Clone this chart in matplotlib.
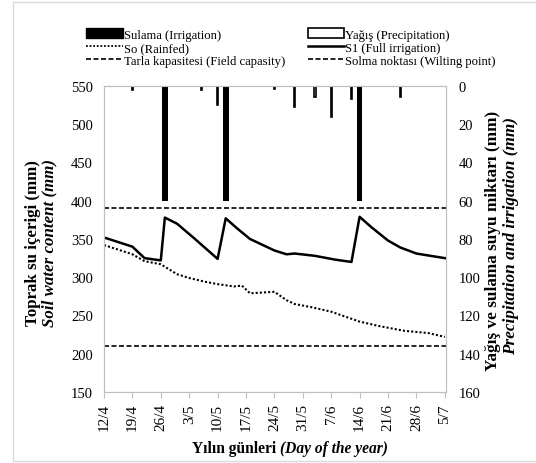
import matplotlib
matplotlib.use("Agg")
import matplotlib.pyplot as plt
from matplotlib.patches import Patch, Rectangle
from matplotlib.lines import Line2D

plt.rcParams['font.family'] = ['Liberation Serif', 'DejaVu Serif']

# days counted from 12/4
tick_days = [0, 7, 14, 21, 28, 35, 42, 49, 56, 63, 70, 77, 84]
tick_labels = ['12/4', '19/4', '26/4', '3/5', '10/5', '17/5', '24/5',
               '31/5', '7/6', '14/6', '21/6', '28/6', '5/7']

# S1 (full irrigation)
s1_days = [0, 7, 10, 14, 15, 18, 22, 25, 28, 30, 33, 36, 42, 45, 47, 52, 57, 61, 63, 66, 70, 73, 77, 84]
s1_vals = [352, 340, 325, 322, 378, 370, 352, 338, 324, 377, 363, 350, 335, 330, 331, 328, 323, 320, 379, 365, 348, 339, 331, 325]

# So (rainfed)
so_days = [0, 3, 7, 10, 14, 18, 21, 25, 28, 32, 34, 36, 42, 45, 47, 51, 56, 63, 68, 74, 80, 84]
so_vals = [342, 337, 330, 321, 317, 304, 299, 294, 291, 288, 289, 279, 281, 270, 265, 261, 255, 242, 236, 230, 227, 222]

field_capacity = 390
wilting_point = 210

# irrigation and precipitation (mm)
irr_days = [15, 30, 63]
irr_mm = [60, 60, 60]
rain_days = [7, 24, 28, 42, 47, 52, 56, 61, 73]
rain_mm = [2, 2, 10, 1.5, 11, 6, 16, 7, 6]

fig = plt.figure(figsize=(5.36, 4.64), dpi=100)
ax = fig.add_axes([104/536, 1-393/464, (446-104)/536, (393-87)/464])
ax2 = ax.twinx()

grey = '#bfbfbf'

ax.plot(s1_days, s1_vals, color='black', lw=1.8, zorder=3)
ax.plot(so_days, so_vals, color='black', lw=1.5, ls=(0, (1, 1)), zorder=3)
ax.axhline(field_capacity, color='black', lw=1.2, ls=(0, (3, 1.5)))
ax.axhline(wilting_point, color='black', lw=1.2, ls=(0, (3, 1.5)))

ax2.bar(irr_days, irr_mm, width=1.4, color='black', align='center')
ax2.bar(rain_days, rain_mm, width=0.3, facecolor='white', edgecolor='black', lw=1.2)

ax.set_xlim(0, 84.3)
ax.set_ylim(150, 550)
ax2.set_ylim(160, 0)
ax.set_xticks(tick_days)
ax.set_xticklabels(tick_labels, rotation=90, fontsize=11)
ax.set_yticks(range(150, 551, 50))
ax2.set_yticks(range(0, 161, 20))
ax.tick_params(axis='y', length=0, pad=8, labelsize=10.5)
ax2.tick_params(axis='y', length=0, pad=9, labelsize=10.5)
ax.tick_params(axis='x', length=4, color=grey, pad=4)
for a in (ax, ax2):
    for s in a.spines.values():
        s.set_color(grey)

# axis titles
fig.text(33/536, 1-243/464, 'Toprak su içerigi (mm)', rotation=90, ha='center', va='center',
         fontsize=12.2, fontweight='bold')
fig.text(49/536, 1-243/464, 'Soil water content (mm)', rotation=90, ha='center', va='center',
         fontsize=12.2, fontweight='bold', style='italic')
fig.text(493/536, 1-241/464, 'Yağış ve sulama suyu miktarı (mm)', rotation=90, ha='center', va='center',
         fontsize=12.4, fontweight='bold')
fig.text(511/536, 1-236/464, 'Precipitation and irrigation (mm)', rotation=90, ha='center', va='center',
         fontsize=12.4, fontweight='bold', style='italic')
t1 = fig.text(192/536, 1-449/464, 'Yılın günleri ', ha='left', va='center',
              fontsize=11.2, fontweight='bold')
ax.annotate('(Day of the year)', xy=(1, 0.5), xycoords=t1, ha='left', va='center',
            fontsize=11.2, fontweight='bold', style='italic', annotation_clip=False)

handles = [
    Patch(facecolor='black', edgecolor='black', label='Sulama (Irrigation)'),
    Line2D([], [], color='black', lw=1.3, ls=(0, (1, 1)), label='So (Rainfed)'),
    Line2D([], [], color='black', lw=1.2, ls=(0, (3, 1.5)), label='Tarla kapasitesi (Field capasity)'),
    Patch(facecolor='white', edgecolor='black', lw=1.2, label='Yağış (Precipitation)'),
    Line2D([], [], color='black', lw=1.8, label='S1 (Full irrigation)'),
    Line2D([], [], color='black', lw=1.2, ls=(0, (3, 1.5)), label='Solma noktası (Wilting point)'),
]
fig.legend(handles=handles, ncol=2, loc='upper left', bbox_to_anchor=(80/536, 1-23/464),
           frameon=False, fontsize=9.1, handlelength=2.9, handleheight=0.8,
           labelspacing=0.08, columnspacing=1.8, handletextpad=0.05, borderpad=0)

fig.patches.append(Rectangle((13/536, 2/464), 1.0, 1-5/464, transform=fig.transFigure,
                             fill=False, edgecolor='#d9d9d9', lw=1.0))

fig.savefig('out.png', dpi=100)
